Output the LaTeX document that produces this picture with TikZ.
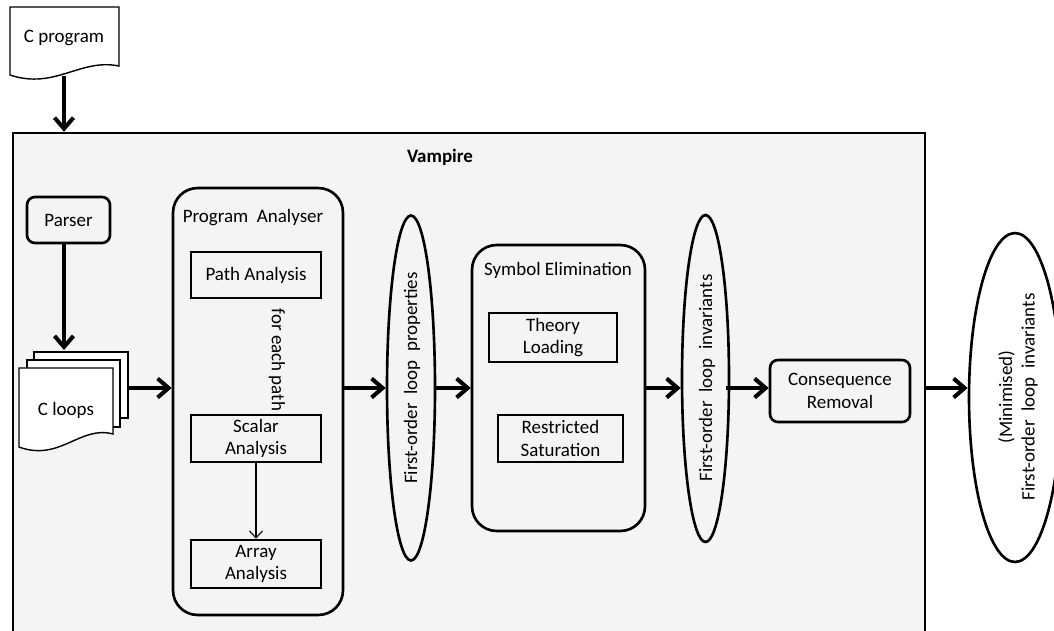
\documentclass[tikz,border=0pt]{standalone}
\usepackage{fontspec}
\setmainfont{Carlito}
\usetikzlibrary{shapes.geometric,arrows.meta}
\definecolor{vampbg}{HTML}{F4F4F4}
\tikzset{
  every node/.style={font=\fontsize{10.8}{12.8}\selectfont},
  box/.style={draw, line width=1.5pt, rectangle, inner sep=0pt, align=center},
  rbox/.style={box, rounded corners=4.5pt},
  bigrbox/.style={box, rounded corners=14pt},
  oval/.style={draw, line width=1.5pt, ellipse, inner sep=0pt},
  doc/.style={draw, line width=0.8pt, fill=white},
  flow/.style={line width=2.3pt, -{Straight Barb[length=2.2mm,width=3.8mm]}},
  thinflow/.style={line width=0.6pt, -{Straight Barb[length=1.4mm,width=2.6mm]}},
}

\begin{document}
\begin{tikzpicture}[x=0.02cm, y=-0.02cm]
    \clip (0,0) rectangle (1054,630);
    \draw[doc] (10,7) -- (119,7) -- (119,66) .. controls (80,58) and (55,90) .. (10,75) -- cycle;
    \node (cprog) at (64,38) {C program};
    \coordinate (cprogout) at (64,76);

    \node[box, fill=vampbg, minimum width=18.24cm, minimum height=10.4cm] (vampire) at (469,393) {};
    \node[font=\fontsize{10.8}{12.8}\selectfont\bfseries] (vamplabel) at (440,157) {Vampire};

    \node[rbox, minimum width=1.66cm, minimum height=0.92cm] (parser) at (68.5,220) {Parser};

    \draw[doc] (34,352) rectangle (128,418);
    \draw[doc] (27,360) rectangle (120,427);
    \draw[doc] (19,368) -- (113,368) -- (113,434) .. controls (80,425) and (60,462) .. (19,447) -- cycle;
    \node (cloops) at (66,410) {C loops};
    \coordinate (cloopsin) at (64,350);
    \coordinate (cloopsout) at (128,388);

    \node[bigrbox, minimum width=3.4cm, minimum height=8.54cm] (pa) at (258,401.5) {};
    \node (palabel) at (253,218) {Program~ Analyser};
    \node[box, minimum width=2.6cm, minimum height=0.92cm] (path) at (256,275) {Path Analysis};
    \node[rotate=-90] (foreach) at (277,360) {for each path};
    \node[box, minimum width=2.6cm, minimum height=0.94cm] (scalar) at (256,438.5) {Scalar\\Analysis};
    \node[box, minimum width=2.6cm, minimum height=0.96cm] (array) at (256,564) {Array\\Analysis};

    \node[oval, minimum width=0.96cm, minimum height=6.9cm] (fop) at (411,388) {};
    \node[rotate=90] (foptext) at (412,378) {First-order~ loop~ properties};

    \node[bigrbox, minimum width=3.46cm, minimum height=5.72cm] (sym) at (558.5,388) {};
    \node (symlabel) at (558,270) {Symbol Elimination};
    \node[box, minimum width=2.56cm, minimum height=0.98cm] (theory) at (553,337.5) {Theory\\Loading};
    \node[box, minimum width=2.5cm, minimum height=0.94cm] (restr) at (560.5,438.5) {Restricted\\Saturation};

    \node[oval, minimum width=0.94cm, minimum height=6.54cm] (foi) at (705.5,378.5) {};
    \node[rotate=90] (foitext) at (707,378) {First-order~ loop~ invariants};

    \node[rbox, minimum width=2.8cm, minimum height=1.24cm] (cons) at (840,391) {Consequence\\Removal};

    \node[oval, fill=white, minimum width=1.84cm, minimum height=6.58cm] (minv) at (1015,397.5) {};
    \node[rotate=90, align=center] (minvtext) at (1018,397) {(Minimised)\\First-order~ loop~ invariants};

    \draw[flow] (cprogout) -- (cprogout |- vampire.north);
    \draw[flow] (parser.south -| cloopsin) -- (cloopsin);
    \draw[flow] (cloopsout) -- (cloopsout -| pa.west);
    \draw[flow] (pa.east |- fop.west) -- (fop.west);
    \draw[flow] (fop.east) -- (sym.west);
    \draw[flow] (sym.east) -- (sym.east -| foi.west);
    \draw[flow] (sym.east -| foi.east) ++(-4,0) -- (cons.west |- sym.east);
    \draw[flow] (vampire.east |- sym.east) -- (minv.west |- sym.east);
    \draw[thinflow] (scalar) -- (array);
\end{tikzpicture}
\end{document}
